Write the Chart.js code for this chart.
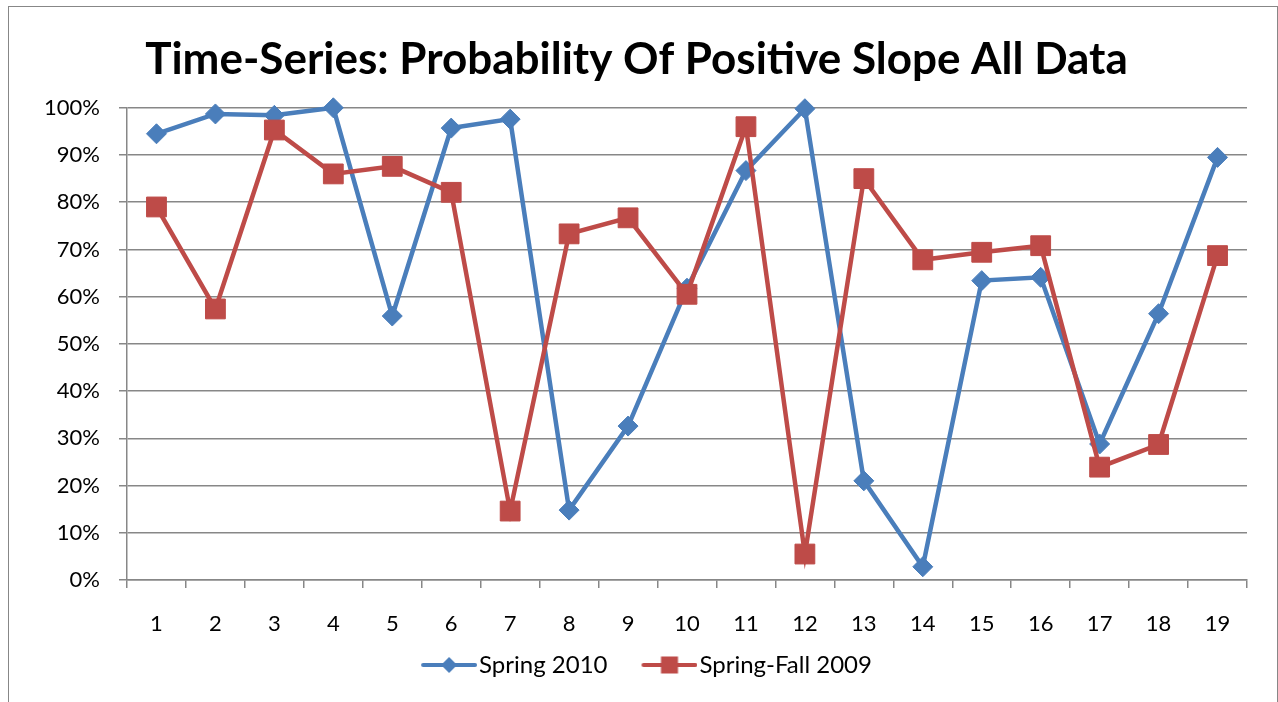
<!DOCTYPE html>
<html>
<head>
<meta charset="utf-8">
<script src="https://cdn.jsdelivr.net/npm/chart.js@4.4.1/dist/chart.umd.min.js"></script>
<style>
  html, body { margin: 0; padding: 0; background: #fff; overflow: hidden; }
  #frame { position: absolute; left: 8px; top: 6px; width: 1270px; height: 720px;
           border: 1px solid #878787; box-sizing: border-box; }
  #wrap  { position: absolute; left: 0; top: 0; width: 1278px; height: 702px; }
</style>
</head>
<body>
<div id="frame"></div>
<div id="wrap"><canvas id="chart"></canvas></div>
<script>
/* ── Datos ── */
var categories     = ['1','2','3','4','5','6','7','8','9','10','11','12','13','14','15','16','17','18','19'];
var spring2010     = [94.5, 98.7, 98.4, 100, 55.9, 95.7, 97.6, 14.8, 32.6, 61.8, 86.7, 99.8, 21.0, 2.8, 63.4, 64.1, 28.8, 56.4, 89.5];
var springFall2009 = [79.0, 57.4, 95.3, 86.0, 87.6, 82.1, 14.6, 73.3, 76.7, 60.5, 96.0, 5.5, 85.0, 67.8, 69.4, 70.8, 23.9, 28.7, 68.7];
var seriesNames    = ['Spring 2010', 'Spring-Fall 2009'];

var BLUE = '#4A7EBB';
var RED  = '#BE4B48';
var GRID = '#878787';

/* Icono de leyenda: línea + marcador (parte visible a la derecha del lienzo) */
function legendIcon(color, shape) {
  var c = document.createElement('canvas');
  c.width = 86; c.height = 20;
  var g = c.getContext('2d');
  var x0 = 30;
  g.strokeStyle = color; g.lineWidth = 4; g.lineCap = 'round';
  g.beginPath(); g.moveTo(x0 + 2, 10); g.lineTo(x0 + 54, 10); g.stroke();
  g.fillStyle = color;
  if (shape === 'diamond') {
    g.beginPath(); g.moveTo(x0 + 28, 2); g.lineTo(x0 + 36, 10); g.lineTo(x0 + 28, 18); g.lineTo(x0 + 20, 10); g.closePath(); g.fill();
  } else {
    g.fillRect(x0 + 19.5, 1.5, 17, 17);
  }
  return c;
}
var icons = [legendIcon(BLUE, 'diamond'), legendIcon(RED, 'square')];

Chart.defaults.font.family = 'Lato, "Open Sans", sans-serif';
Chart.defaults.color = '#000';

new Chart(document.getElementById('chart').getContext('2d'), {
  type: 'line',
  data: {
    labels: categories,
    datasets: [{
      label: seriesNames[0],
      data: spring2010,
      borderColor: BLUE,
      backgroundColor: BLUE,
      borderWidth: 4.5,
      pointStyle: 'rectRot',
      pointRadius: 10,
      pointBorderWidth: 1,
      pointBackgroundColor: BLUE,
      pointBorderColor: BLUE,
      tension: 0,
      clip: false,
      order: 1
    }, {
      label: seriesNames[1],
      data: springFall2009,
      borderColor: RED,
      backgroundColor: RED,
      borderWidth: 4.5,
      pointStyle: 'rect',
      pointRadius: 14,
      pointBorderWidth: 1,
      pointBackgroundColor: RED,
      pointBorderColor: RED,
      tension: 0,
      clip: false,
      order: 0
    }]
  },
  options: {
    responsive: true,
    maintainAspectRatio: false,
    animation: false,
    layout: { padding: { left: 26, right: 31, top: 0, bottom: 15 } },
    plugins: {
      title: {
        display: true,
        text: 'Time-Series: Probability Of Positive Slope All Data',
        font: { size: 44, weight: 'bold' },
        color: '#000',
        padding: { top: 33, bottom: 22 }
      },
      legend: {
        position: 'bottom',
        labels: {
          usePointStyle: true,
          pointStyleWidth: 66,
          padding: 14,
          font: { size: 24 },
          color: '#000',
          generateLabels: function(chart) {
            return chart.data.datasets.map(function(ds, i) {
              return { text: ds.label, pointStyle: icons[i], datasetIndex: i,
                       fillStyle: ds.borderColor, strokeStyle: ds.borderColor, lineWidth: 0, hidden: false };
            });
          }
        }
      },
      tooltip: { enabled: false }
    },
    scales: {
      x: {
        offset: true,
        grid: { offset: true, drawOnChartArea: false, drawTicks: true, tickLength: 8, color: GRID, lineWidth: 1.5 },
        border: { display: true, color: GRID, width: 1.5 },
        ticks: { font: { size: 22 }, padding: 23, color: '#000', maxRotation: 0, autoSkip: false },
        afterFit: function(scale) { scale.height = 59; }
      },
      y: {
        min: 0,
        max: 100,
        grid: { color: GRID, lineWidth: 1.5, drawTicks: true, tickLength: 8 },
        border: { display: true, color: GRID, width: 1.5 },
        ticks: {
          stepSize: 10,
          padding: 19,
          font: { size: 22 },
          color: '#000',
          callback: function(v) { return v + '%'; }
        },
        afterFit: function(scale) { scale.width = 101; }
      }
    }
  }
});
</script>
</body>
</html>
